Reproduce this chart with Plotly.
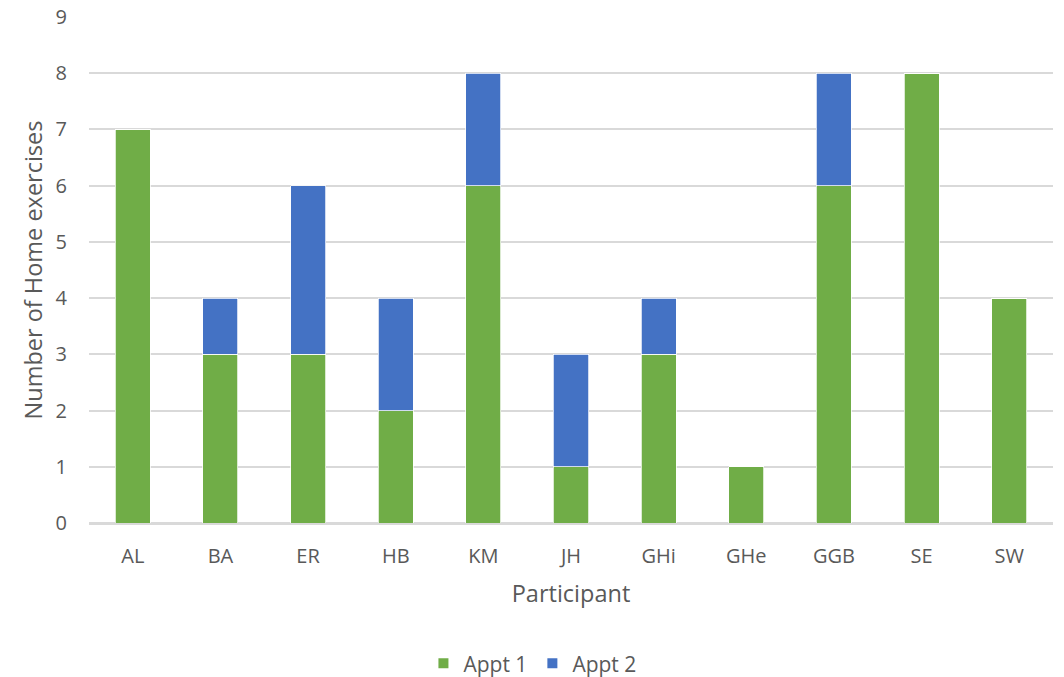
import plotly.graph_objects as go

participants = ["AL", "BA", "ER", "HB", "KM", "JH", "GHi", "GHe", "GGB", "SE", "SW"]
appt1 = [7, 3, 3, 2, 6, 1, 3, 1, 6, 8, 4]
appt2 = [0, 1, 3, 2, 2, 2, 1, 0, 2, 0, 0]
y_ticks = list(range(0, 10))

text_color = "#595959"
font_family = "Open Sans, Calibri, sans-serif"

fig = go.Figure()
fig.add_trace(go.Bar(
    x=participants, y=appt1, name="Appt 1",
    marker=dict(color="#70AD47", line=dict(color="white", width=0.75)),
))
fig.add_trace(go.Bar(
    x=participants, y=appt2, name="Appt 2",
    marker=dict(color="#4472C4", line=dict(color="white", width=0.75)),
))

fig.update_layout(
    barmode="stack",
    bargap=0.6,
    width=1064, height=677,
    margin=dict(l=89, r=11, t=17, b=154, autoexpand=False),
    paper_bgcolor="white", plot_bgcolor="white",
    font=dict(family=font_family, color=text_color, size=20),
    legend=dict(
        orientation="h", x=0.46, xanchor="center", y=-0.278, yanchor="middle",
        font=dict(size=21, color=text_color), traceorder="normal",
        itemwidth=30, itemsizing="constant",
    ),
    xaxis=dict(
        title=dict(text="Participant", font=dict(size=23.5, color=text_color), standoff=18),
        showgrid=False, showline=True, linecolor="#D9D9D9", linewidth=1.5,
        ticks="outside", ticklen=14, tickcolor="rgba(0,0,0,0)",
        tickfont=dict(size=20, color=text_color), automargin=False,
    ),
    yaxis=dict(
        title=dict(text="Number of Home exercises", font=dict(size=23.5, color=text_color), standoff=6),
        range=[0, 9], tickvals=y_ticks,
        showgrid=True, gridcolor="#D9D9D9", gridwidth=1.5,
        zeroline=True, zerolinecolor="#D9D9D9", zerolinewidth=1.5,
        ticks="outside", ticklen=17, tickcolor="rgba(0,0,0,0)",
        tickfont=dict(size=20, color=text_color), automargin=False,
    ),
)

fig.write_html("out.html")
